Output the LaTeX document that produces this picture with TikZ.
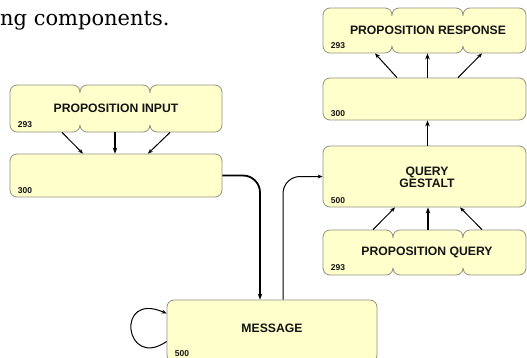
\documentclass[tikz,border=0pt]{standalone}
\usepackage{fontspec}
\setmainfont{Liberation Sans}
\newfontfamily\bodyserif{DejaVu Serif}
\usetikzlibrary{arrows.meta,fit}

\definecolor{boxfill}{RGB}{255,255,204}
\definecolor{boxline}{RGB}{145,145,130}

\tikzset{
  card/.style={draw=boxline, fill=boxfill, line width=0.8pt, rounded corners=7pt, inner sep=0pt},
  title/.style={font=\bfseries\fontsize{12.2}{12.4}\selectfont, align=center, text=black!92, inner sep=0pt},
  tag/.style={font=\bfseries\fontsize{8.5}{8.5}\selectfont, anchor=base west, inner sep=0pt, text=black!92},
  link/.style={line width=1pt, -{Stealth[length=5pt,width=4pt]}},
  mainlink/.style={line width=1.8pt, -{Stealth[length=6pt,width=4.5pt]}},
}

\begin{document}
\begin{tikzpicture}[x=1pt,y=-1pt]
\useasboundingbox (0,0) rectangle (527,357);
\clip (0,0) rectangle (527,357);

% running text above the figure
\node[anchor=base west, inner sep=0pt, font=\bodyserif\fontsize{21}{24}\selectfont] (caption) at (0,25) {ng components.};

% proposition input (three lobes)
\node[card, fit={(10,85) (80,132)}] (pi-a) {};
\node[card, fit={(80,85) (150,132)}] (pi-b) {};
\node[card, fit={(150,85) (222,132)}] (pi-c) {};
\fill[boxfill] (78.5,92.5) rectangle (81.5,124.5);
\fill[boxfill] (148.5,92.5) rectangle (151.5,124.5);
\node[title] (pi) at (116,108.5) {PROPOSITION INPUT};
\node[tag] (pi-n) at ([xshift=8pt,yshift=5pt]pi-a.south west) {293};

% left stage
\node[card, fit={(10,154) (222,197)}] (l300) {};
\node[tag] (l300-n) at ([xshift=8pt,yshift=4pt]l300.south west) {300};

% proposition response (three lobes)
\node[card, fit={(323,8) (392,53)}] (pr-a) {};
\node[card, fit={(392,8) (463,53)}] (pr-b) {};
\node[card, fit={(463,8) (526,53)}] (pr-c) {};
\fill[boxfill] (390.5,15.5) rectangle (393.5,45.5);
\fill[boxfill] (461.5,15.5) rectangle (464.5,45.5);
\node[title] (pr) at (428,30.5) {PROPOSITION RESPONSE};
\node[tag] (pr-n) at ([xshift=8pt,yshift=5pt]pr-a.south west) {293};

% right stage
\node[card, fit={(323,78) (526,120)}] (r300) {};
\node[tag] (r300-n) at ([xshift=8pt,yshift=4pt]r300.south west) {300};

% query gestalt
\node[card, fit={(323,146) (526,207)}] (qg) {};
\node[title] (qg-t) at (427,177) {QUERY\\GESTALT};
\node[tag] (qg-n) at ([xshift=8pt,yshift=4pt]qg.south west) {500};

% proposition query (three lobes)
\node[card, fit={(323,230) (393,275)}] (pq-a) {};
\node[card, fit={(393,230) (463,275)}] (pq-b) {};
\node[card, fit={(463,230) (526,275)}] (pq-c) {};
\fill[boxfill] (391.5,237.5) rectangle (394.5,267.5);
\fill[boxfill] (461.5,237.5) rectangle (464.5,267.5);
\node[title] (pq) at (427,252.5) {PROPOSITION QUERY};
\node[tag] (pq-n) at ([xshift=8pt,yshift=5pt]pq-a.south west) {293};

% message
\node[card, fit={(167,300) (377,362)}] (msg) {};
\node[title] (msg-t) at (272,328.5) {MESSAGE};
\node[tag] (msg-n) at ([xshift=8pt,yshift=6pt]msg.south west) {500};

% input side
\draw[link] ([xshift=17pt]pi-a.south) -- ([xshift=-33pt]l300.north);
\draw[mainlink] (pi-b.south) -- (pi-b.south |- l300.north);
\draw[link] ([xshift=-16pt]pi-c.south) -- ([xshift=32pt]l300.north);

% response side
\draw[link] ([xshift=-27.5pt]r300.north) -- ([xshift=17.5pt]pr-a.south);
\draw[mainlink] (r300.north -| pr-b.south) -- (pr-b.south);
\draw[link] ([xshift=33.5pt]r300.north) -- ([xshift=-12.5pt]pr-c.south);

\draw[mainlink] (qg.north -| pr-b.south) -- (r300.south -| pr-b.south);

% query side
\draw[link] ([xshift=15pt]pq-a.north) -- ([xshift=-29.5pt]qg.south);
\draw[mainlink] (pq-b.north) -- (pq-b.north |- qg.south);
\draw[link] ([xshift=-12.5pt]pq-c.north) -- ([xshift=35.5pt]qg.south);

% message routing
\draw[mainlink, rounded corners=17pt] (l300.east) -| ([xshift=-12pt]msg.north);
\draw[link, rounded corners=17pt] ([xshift=11pt]msg.north) |- (qg.west);
\draw[link] ([yshift=-10.5pt]msg.west) .. controls +(-42,29) and +(-52,-23) .. ([yshift=17.5pt]msg.west);
\end{tikzpicture}
\end{document}
